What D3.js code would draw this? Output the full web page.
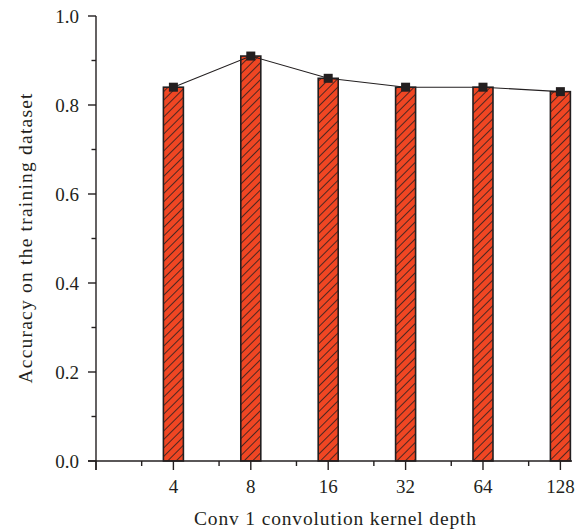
<!DOCTYPE html>
<html>
<head>
<meta charset="utf-8">
<script src="https://cdn.jsdelivr.net/npm/d3@7"></script>
<style>
  html, body { margin: 0; padding: 0; background: #fff; }
  svg { display: block; }
</style>
</head>
<body>
<svg id="chart"></svg>
<script>
// kernel depth vs training accuracy
const depths   = ["4", "8", "16", "32", "64", "128"];
const accuracy = [0.84, 0.91, 0.86, 0.84, 0.84, 0.83];
const yTicks      = [0, 0.2, 0.4, 0.6, 0.8, 1.0];
const yMinorTicks = [0.1, 0.3, 0.5, 0.7, 0.9];
const xMinorTicks = [0.59, 1.59, 2.59, 3.59, 4.59, 5.59];

const W = 584, H = 530;
const FONT = "'Liberation Serif', 'DejaVu Serif', serif";
const FILL = "#f04623", INK = "#231f20";

const svg = d3.select("#chart").attr("width", W).attr("height", H);

const x = d3.scaleLinear().domain([0, 6.15]).range([96, 572]);
const y = d3.scaleLinear().domain([0, 1]).range([461, 16]);
const barW = 20;

// hatch pattern
const pat = svg.append("defs").append("pattern")
  .attr("id", "hatch")
  .attr("patternUnits", "userSpaceOnUse")
  .attr("width", 6).attr("height", 6)
  .attr("patternTransform", "rotate(45)");
pat.append("rect").attr("width", 6).attr("height", 6).attr("fill", FILL);
pat.append("line")
  .attr("x1", 0).attr("y1", 0).attr("x2", 0).attr("y2", 6)
  .attr("stroke", INK).attr("stroke-width", 1.6);

// bars
svg.append("g").selectAll("rect")
  .data(accuracy).enter().append("rect")
  .attr("x", (d, i) => x(i + 1) - barW / 2)
  .attr("y", d => y(d))
  .attr("width", barW)
  .attr("height", d => y(0) - y(d))
  .attr("fill", "url(#hatch)")
  .attr("stroke", INK).attr("stroke-width", 1.6);

// x axis
const gx = svg.append("g").attr("transform", `translate(0,${y(0)})`);
gx.append("line").attr("x1", 88).attr("x2", 572).attr("stroke", INK).attr("stroke-width", 1.4);
gx.selectAll("line.major")
  .data([0, 1, 2, 3, 4, 5, 6]).enter().append("line")
  .attr("class", "major")
  .attr("x1", d => x(d)).attr("x2", d => x(d))
  .attr("y1", 0).attr("y2", 9)
  .attr("stroke", INK).attr("stroke-width", 1.4);
gx.selectAll("line.minor")
  .data(xMinorTicks).enter().append("line")
  .attr("class", "minor")
  .attr("x1", d => x(d)).attr("x2", d => x(d))
  .attr("y1", 0).attr("y2", 5)
  .attr("stroke", INK).attr("stroke-width", 1.4);
gx.selectAll("text")
  .data(depths).enter().append("text")
  .attr("x", (d, i) => x(i + 1))
  .attr("y", 32)
  .attr("text-anchor", "middle")
  .attr("font-family", FONT).attr("font-size", 19).attr("fill", INK)
  .text(d => d);

// y axis
const gy = svg.append("g").attr("transform", `translate(${x(0)},0)`);
gy.append("line").attr("y1", y(1)).attr("y2", y(0) + 9).attr("stroke", INK).attr("stroke-width", 1.4);
gy.selectAll("line.major")
  .data(yTicks).enter().append("line")
  .attr("class", "major")
  .attr("y1", d => y(d)).attr("y2", d => y(d))
  .attr("x1", -8).attr("x2", 0)
  .attr("stroke", INK).attr("stroke-width", 1.4);
gy.selectAll("line.minor")
  .data(yMinorTicks).enter().append("line")
  .attr("class", "minor")
  .attr("y1", d => y(d)).attr("y2", d => y(d))
  .attr("x1", -4.5).attr("x2", 0)
  .attr("stroke", INK).attr("stroke-width", 1.4);
gy.selectAll("text")
  .data(yTicks).enter().append("text")
  .attr("x", -17)
  .attr("y", d => y(d))
  .attr("dy", "0.35em")
  .attr("text-anchor", "end")
  .attr("font-family", FONT).attr("font-size", 19).attr("fill", INK)
  .text(d => d3.format(".1f")(d));

// line + square markers
const line = d3.line().x((d, i) => x(i + 1)).y(d => y(d));
svg.append("path")
  .datum(accuracy)
  .attr("d", line)
  .attr("fill", "none").attr("stroke", INK).attr("stroke-width", 1.1);
svg.append("g").selectAll("rect")
  .data(accuracy).enter().append("rect")
  .attr("x", (d, i) => x(i + 1) - 4.5)
  .attr("y", d => y(d) - 4.5)
  .attr("width", 9).attr("height", 9)
  .attr("fill", INK);

// titles
svg.append("text")
  .attr("x", 335)
  .attr("y", 525)
  .attr("text-anchor", "middle")
  .attr("font-family", FONT).attr("font-size", 19.5).attr("fill", INK)
  .attr("textLength", 282).attr("lengthAdjust", "spacing")
  .text("Conv 1 convolution kernel depth");

svg.append("text")
  .attr("transform", `translate(32,${(y(0) + y(1)) / 2}) rotate(-90)`)
  .attr("text-anchor", "middle")
  .attr("font-family", FONT).attr("font-size", 19.5).attr("fill", INK)
  .attr("textLength", 290).attr("lengthAdjust", "spacing")
  .text("Accuracy on the training dataset");
</script>
</body>
</html>
